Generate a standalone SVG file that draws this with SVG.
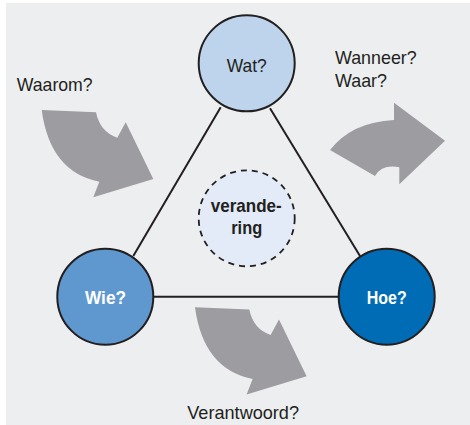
<svg xmlns="http://www.w3.org/2000/svg" width="470" height="425" viewBox="0 0 470 425">
<style>
.t{font-family:"Liberation Sans Narrow","Liberation Sans",Arial,sans-serif;font-size:19px;fill:#231f20}
.b{font-weight:bold}
.w{fill:#ffffff}
.node{stroke:#231f20;stroke-width:2}
.arrow{fill:#9d9ca1}
.edge{stroke:#231f20;stroke-width:2;fill:none}
</style>
<defs>
<path id="curved" d="M41.7,110 L96,112.3 Q100,132 117.3,137.7 L125.7,122.3 L153.3,179 L93.3,197.3 L99.3,181.7 Q50,172 41.7,110 Z"/>
</defs>
<rect x="6" y="3" width="464" height="422" fill="#eceef0"/>
<g id="arrows">
<use href="#curved" class="arrow"/>
<use href="#curved" class="arrow" transform="translate(153.3,197.3)"/>
<path class="arrow" d="M330,150 Q352,122 394,120 L394,102.7 L445,140.7 L399.3,184.3 L399.3,167.3 Q382,164 375,176 Z"/>
</g>
<g id="connectors">
<line class="edge" x1="220.7" y1="107.3" x2="133.3" y2="256"/>
<line class="edge" x1="270" y1="108.3" x2="360" y2="256"/>
<line class="edge" x1="154" y1="296.7" x2="338" y2="296.7"/>
</g>
<g id="wat">
<circle class="node" cx="246.7" cy="63.3" r="48" fill="#bdd4ec"/>
<text class="t" x="246.7" y="71.5" text-anchor="middle" textLength="40" lengthAdjust="spacingAndGlyphs">Wat?</text>
</g>
<g id="wie">
<circle class="node" cx="105.3" cy="296.7" r="48" fill="#5e98cf"/>
<text class="t b w" x="105.5" y="304" text-anchor="middle" textLength="41" lengthAdjust="spacingAndGlyphs">Wie?</text>
</g>
<g id="hoe">
<circle class="node" cx="386.7" cy="296.7" r="48" fill="#006cb5"/>
<text class="t b w" x="386.7" y="304" text-anchor="middle" textLength="40" lengthAdjust="spacingAndGlyphs">Hoe?</text>
</g>
<g id="verandering">
<circle cx="246.7" cy="218.3" r="48" fill="#e2ebf7" stroke="#231f20" stroke-width="1.8" stroke-dasharray="6,5"/>
<text class="t b" x="246.2" y="211.7" text-anchor="middle" textLength="71" lengthAdjust="spacingAndGlyphs">verande-</text>
<text class="t b" x="246.7" y="234.3" text-anchor="middle" textLength="31" lengthAdjust="spacingAndGlyphs">ring</text>
</g>
<g id="labels">
<text class="t" x="16.7" y="90.7" textLength="76" lengthAdjust="spacingAndGlyphs">Waarom?</text>
<text class="t" x="335" y="64" textLength="81.7" lengthAdjust="spacingAndGlyphs">Wanneer?</text>
<text class="t" x="335" y="87.3" textLength="52" lengthAdjust="spacingAndGlyphs">Waar?</text>
<text class="t" x="187.3" y="419.3" textLength="111.7" lengthAdjust="spacingAndGlyphs">Verantwoord?</text>
</g>
</svg>
